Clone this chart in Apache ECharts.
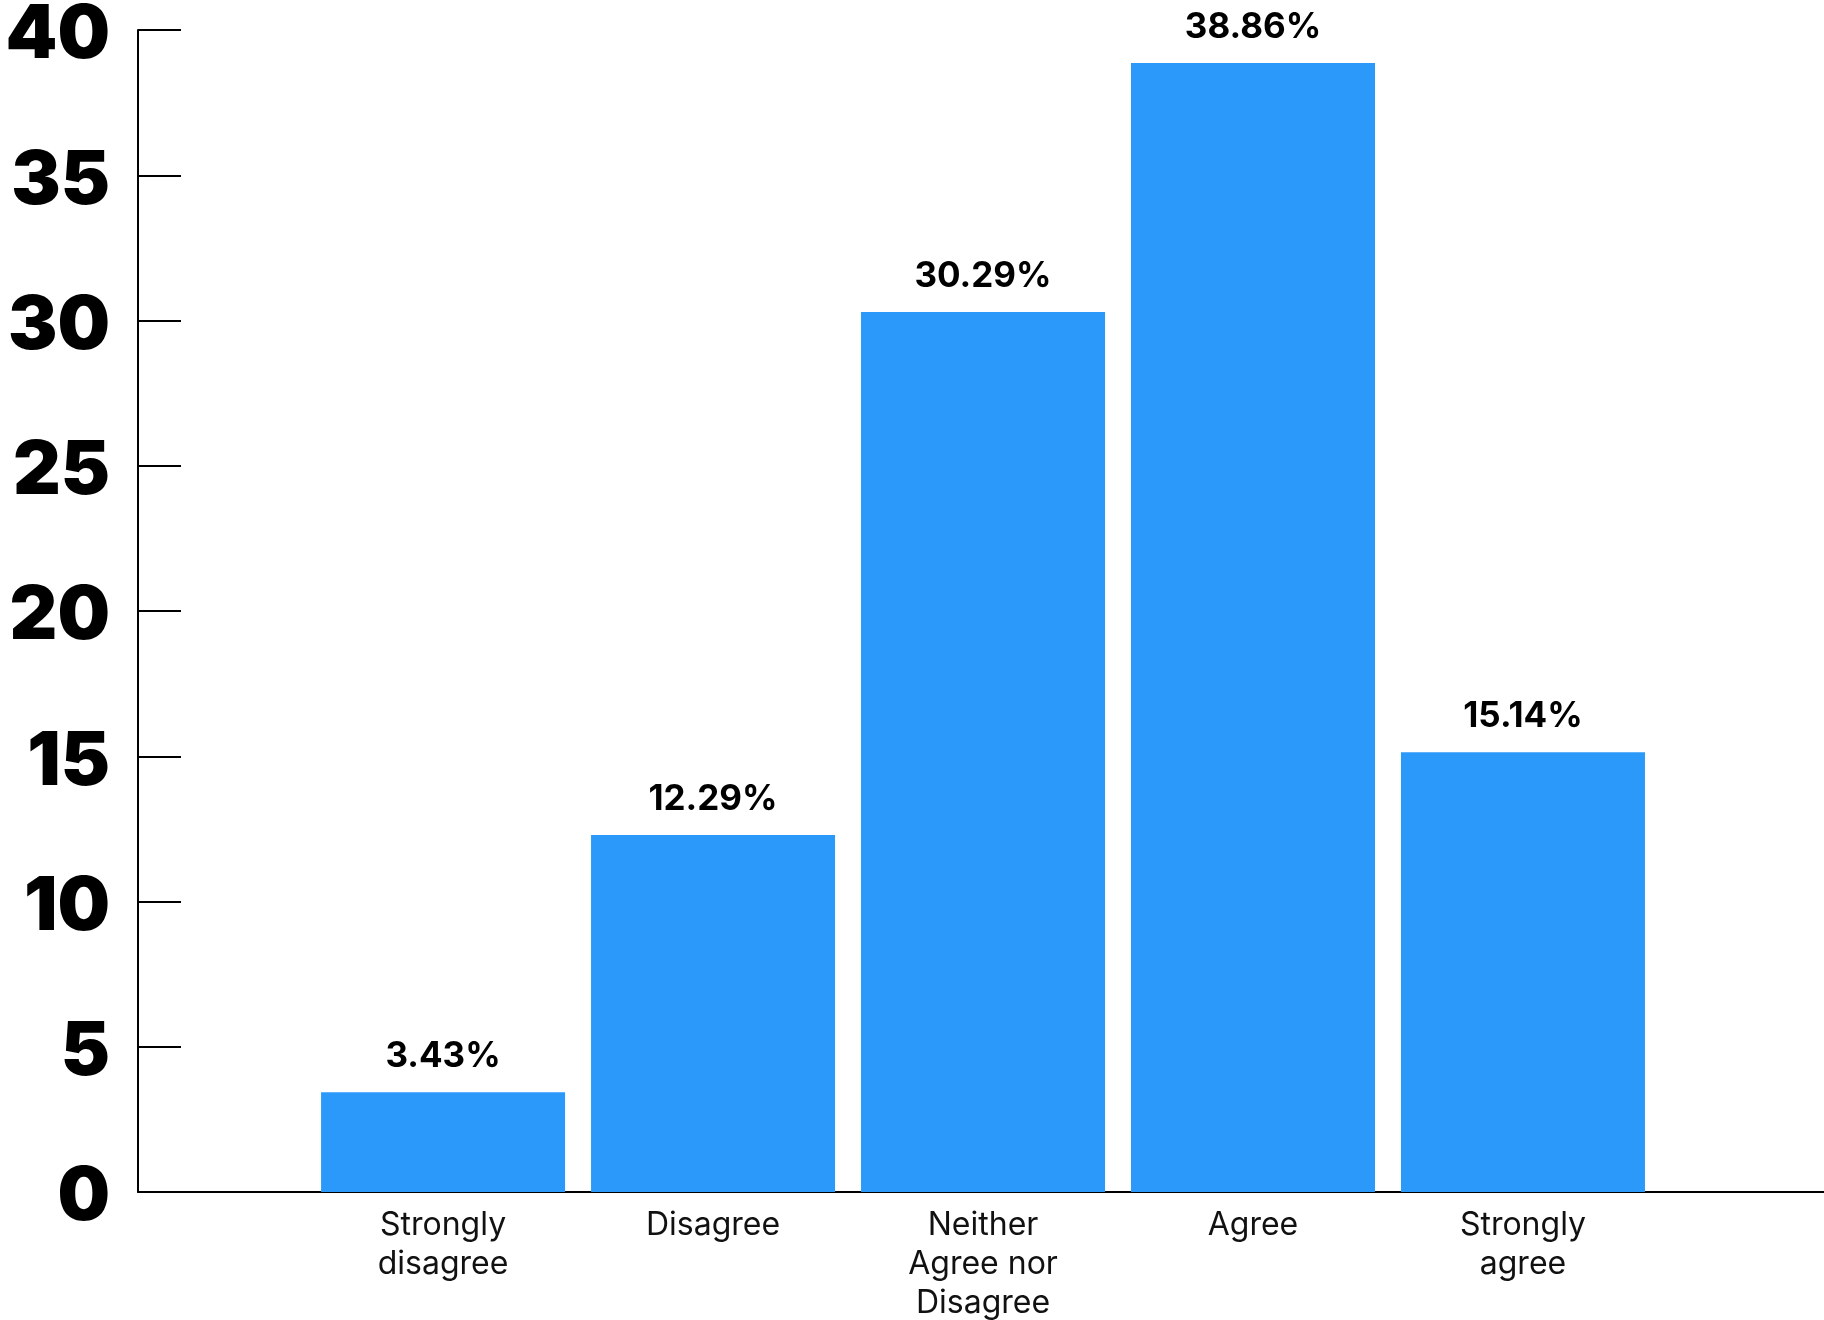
<!DOCTYPE html>
<html>
<head>
<meta charset="utf-8">
<script src="https://cdn.jsdelivr.net/npm/echarts@6/dist/echarts.min.js"></script>
<style>
  html, body { margin: 0; padding: 0; background: #fff; }
  #chart { width: 1824px; height: 1320px; }
</style>
</head>
<body>
<div id="chart"></div>
<script>
// survey answers, in order along the x axis
var categories = [
  'Strongly\ndisagree',
  'Disagree',
  'Neither\nAgree nor\nDisagree',
  'Agree',
  'Strongly\nagree',
]
var values = [3.43, 12.29, 30.29, 38.86, 15.14]
var yTicks = [0, 5, 10, 15, 20, 25, 30, 35, 40]

var barData = []
for (var i = 0; i < values.length; i++) {
  barData.push([i, values[i]])
}

var chart = echarts.init(document.getElementById('chart'))
chart.setOption({
  animation: false,
  grid: {
    left: 138,
    right: 0,
    top: 30,
    bottom: 128,
    containLabel: false,
    outerBoundsMode: 'none',
  },
  xAxis: {
    type: 'value',
    min: -1.13,
    max: 5.115,
    minInterval: 1,
    maxInterval: 1,
    splitLine: { show: false },
    axisTick: { show: false },
    axisLine: {
      show: true,
      lineStyle: { color: '#000', width: 2 },
    },
    axisLabel: {
      margin: 14,
      color: '#111',
      fontFamily: 'Inter',
      fontSize: 32,
      lineHeight: 39,
      formatter: function (v) {
        if (v !== Math.round(v) || v < 0 || v >= categories.length) return ''
        return categories[v]
      },
    },
  },
  yAxis: {
    type: 'value',
    min: yTicks[0],
    max: yTicks[yTicks.length - 1],
    interval: 5,
    splitLine: { show: false },
    axisLine: {
      show: true,
      onZero: false,
      lineStyle: { color: '#000', width: 2 },
    },
    axisTick: {
      show: true,
      inside: true,
      length: 43,
      lineStyle: { color: '#000', width: 2 },
    },
    axisLabel: {
      margin: 28,
      formatter: function (v) {
        return '{n|' + v + '}'
      },
      rich: {
        n: {
          padding: [12, 0, 0, 0],
          color: '#000',
          fontFamily: 'Inter',
          fontWeight: 900,
          fontSize: 74,
        },
      },
    },
  },
  series: [
    {
      type: 'bar',
      data: barData,
      barWidth: 244,
      itemStyle: { color: '#2a99fa' },
      label: {
        show: true,
        position: 'top',
        distance: 18,
        color: '#000',
        fontFamily: 'Inter',
        fontWeight: 'bold',
        fontSize: 35,
        formatter: function (p) {
          return p.value[1].toFixed(2) + '%'
        },
      },
    },
  ],
})
</script>
</body>
</html>
